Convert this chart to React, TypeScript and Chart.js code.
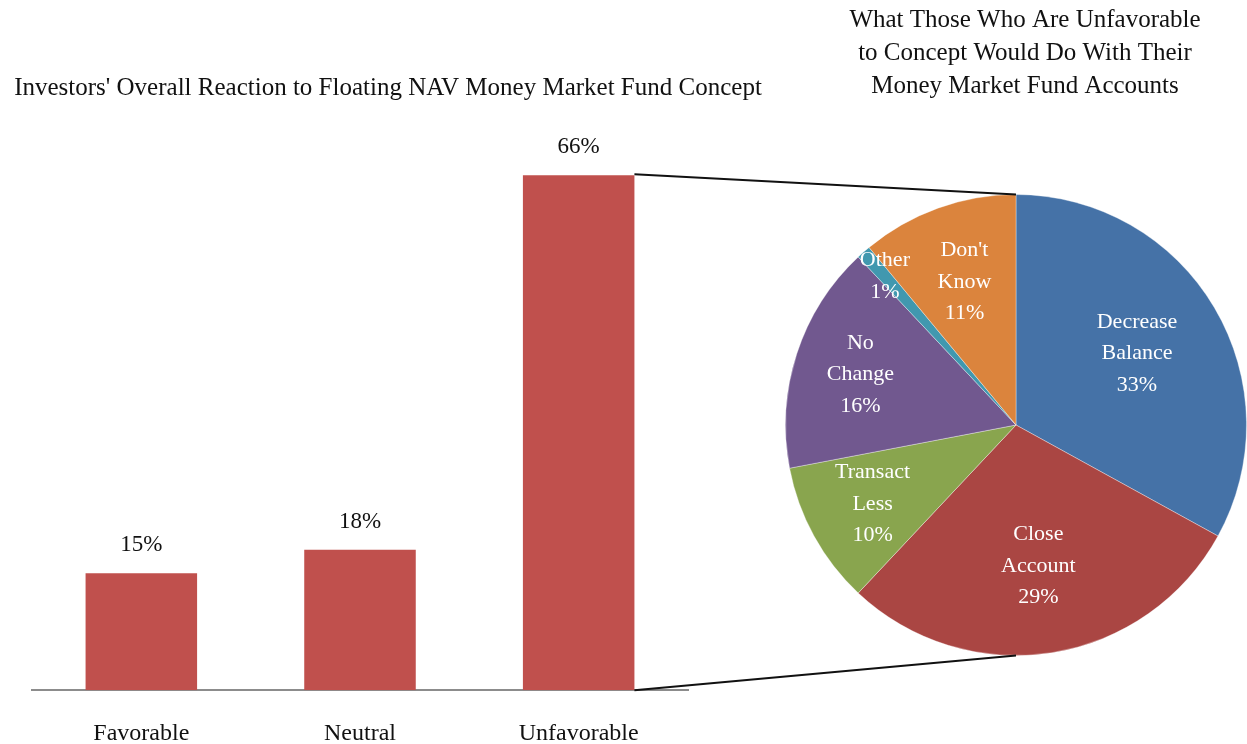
import React, { useEffect, useRef } from 'react';
import { Chart, registerables } from 'chart.js';

Chart.register(...registerables);

const barCategories = ['Favorable', 'Neutral', 'Unfavorable'];
const barValues = [15, 18, 66];
const barTitle = "Investors' Overall Reaction to Floating NAV Money Market Fund Concept";

const pieLabels = [['Decrease', 'Balance'], ['Close', 'Account'], ['Transact', 'Less'], ['No', 'Change'], ['Other'], ["Don't", 'Know']];
const pieValues = [33, 29, 10, 16, 1, 11];
const pieColors = ['#4572A7', '#AA4643', '#89A54E', '#71588F', '#4198AF', '#DB843D'];
const pieTitle = ['What Those Who Are Unfavorable', 'to Concept Would Do With Their', 'Money Market Fund Accounts'];

const FONT = '"Liberation Serif", "Times New Roman", serif';
const W = 1247;
const H = 744;
const labelRadiusRatio = [0.61, 0.62, 0.71, 0.71, 0.86, 0.66];

export default function App() {
  const barRef = useRef<HTMLCanvasElement>(null);
  const pieRef = useRef<HTMLCanvasElement>(null);

  useEffect(() => {
    const barLabelPlugin = {
      id: 'barLabels',
      afterDatasetsDraw(chart: any) {
        const ctx = chart.ctx;
        const meta = chart.getDatasetMeta(0);
        ctx.save();
        ctx.fillStyle = '#111';
        ctx.font = `23px ${FONT}`;
        ctx.textAlign = 'center';
        ctx.textBaseline = 'middle';
        meta.data.forEach((el: any, i: number) => {
          ctx.fillText(`${barValues[i]}%`, el.x, el.y - 28);
        });
        ctx.restore();
      },
    };

    const barChart = new Chart(barRef.current!, {
      type: 'bar',
      data: {
        labels: barCategories,
        datasets: [
          {
            data: barValues,
            backgroundColor: '#C0504D',
            borderWidth: 0,
            barPercentage: 0.51,
            categoryPercentage: 1,
          },
        ],
      },
      options: {
        animation: false,
        responsive: false,
        layout: { padding: { left: 32, right: 559, top: 144, bottom: -33 } },
        plugins: { legend: { display: false }, tooltip: { enabled: false }, title: { display: false } },
        scales: {
          x: {
            grid: { display: false, drawTicks: false },
            border: { display: true, color: '#8c8c8c', width: 2 },
            ticks: { color: '#111', font: { family: FONT, size: 24 }, padding: 29 },
          },
          y: { display: false, min: 0, max: 70 },
        },
      },
      plugins: [barLabelPlugin],
    });

    const overlayPlugin = {
      id: 'overlay',
      afterDatasetsDraw(chart: any) {
        const ctx = chart.ctx;
        const meta = chart.getDatasetMeta(0);
        // slice labels
        ctx.save();
        ctx.fillStyle = '#ffffff';
        ctx.font = `22px ${FONT}`;
        ctx.textAlign = 'center';
        ctx.textBaseline = 'middle';
        const total = pieValues.reduce((a, b) => a + b, 0);
        meta.data.forEach((arc: any, i: number) => {
          const mid = (arc.startAngle + arc.endAngle) / 2;
          const r = arc.outerRadius * labelRadiusRatio[i];
          const cx = arc.x + Math.cos(mid) * r;
          const cy = arc.y + Math.sin(mid) * r;
          const lines = [...pieLabels[i], `${Math.round((pieValues[i] / total) * 100)}%`];
          const lh = 31.5;
          const y0 = cy - ((lines.length - 1) * lh) / 2;
          lines.forEach((t, k) => ctx.fillText(t, cx, y0 + k * lh));
        });
        ctx.restore();

        // connector lines
        const bm = barChart.getDatasetMeta(0);
        const bar: any = bm.data[bm.data.length - 1];
        const arc0: any = meta.data[0];
        const bx = bar.x + bar.width / 2;
        ctx.save();
        ctx.strokeStyle = '#111';
        ctx.lineWidth = 2;
        ctx.beginPath();
        ctx.moveTo(bx, bar.y - 1);
        ctx.lineTo(arc0.x, arc0.y - arc0.outerRadius);
        ctx.moveTo(bx, bar.base);
        ctx.lineTo(arc0.x, arc0.y + arc0.outerRadius);
        ctx.stroke();
        ctx.restore();

        // titles
        ctx.save();
        ctx.fillStyle = '#111';
        ctx.textAlign = 'center';
        ctx.textBaseline = 'middle';
        ctx.font = `25px ${FONT}`;
        ctx.fillText(barTitle, 388, 88);
        ctx.font = `25px ${FONT}`;
        pieTitle.forEach((t, k) => ctx.fillText(t, 1025, 20 + k * 33));
        ctx.restore();
      },
    };

    const pieChart = new Chart(pieRef.current!, {
      type: 'pie',
      data: {
        labels: pieLabels.map((l) => l.join(' ')),
        datasets: [
          {
            data: pieValues,
            backgroundColor: pieColors,
            borderColor: 'rgba(255,255,255,0.35)',
            borderWidth: 1,
          },
        ],
      },
      options: {
        animation: false,
        responsive: false,
        layout: { padding: { left: 785, right: 0, top: 194, bottom: 88 } },
        plugins: { legend: { display: false }, tooltip: { enabled: false }, title: { display: false } },
      },
      plugins: [overlayPlugin],
    });

    return () => {
      pieChart.destroy();
      barChart.destroy();
    };
  }, []);

  return (
    <div style={{ position: 'fixed', left: 0, top: 0, width: W, height: H, background: '#fff' }}>
      <canvas ref={barRef} width={W} height={H} style={{ position: 'absolute', left: 0, top: 0, width: W, height: H }} />
      <canvas ref={pieRef} width={W} height={H} style={{ position: 'absolute', left: 0, top: 0, width: W, height: H }} />
    </div>
  );
}
